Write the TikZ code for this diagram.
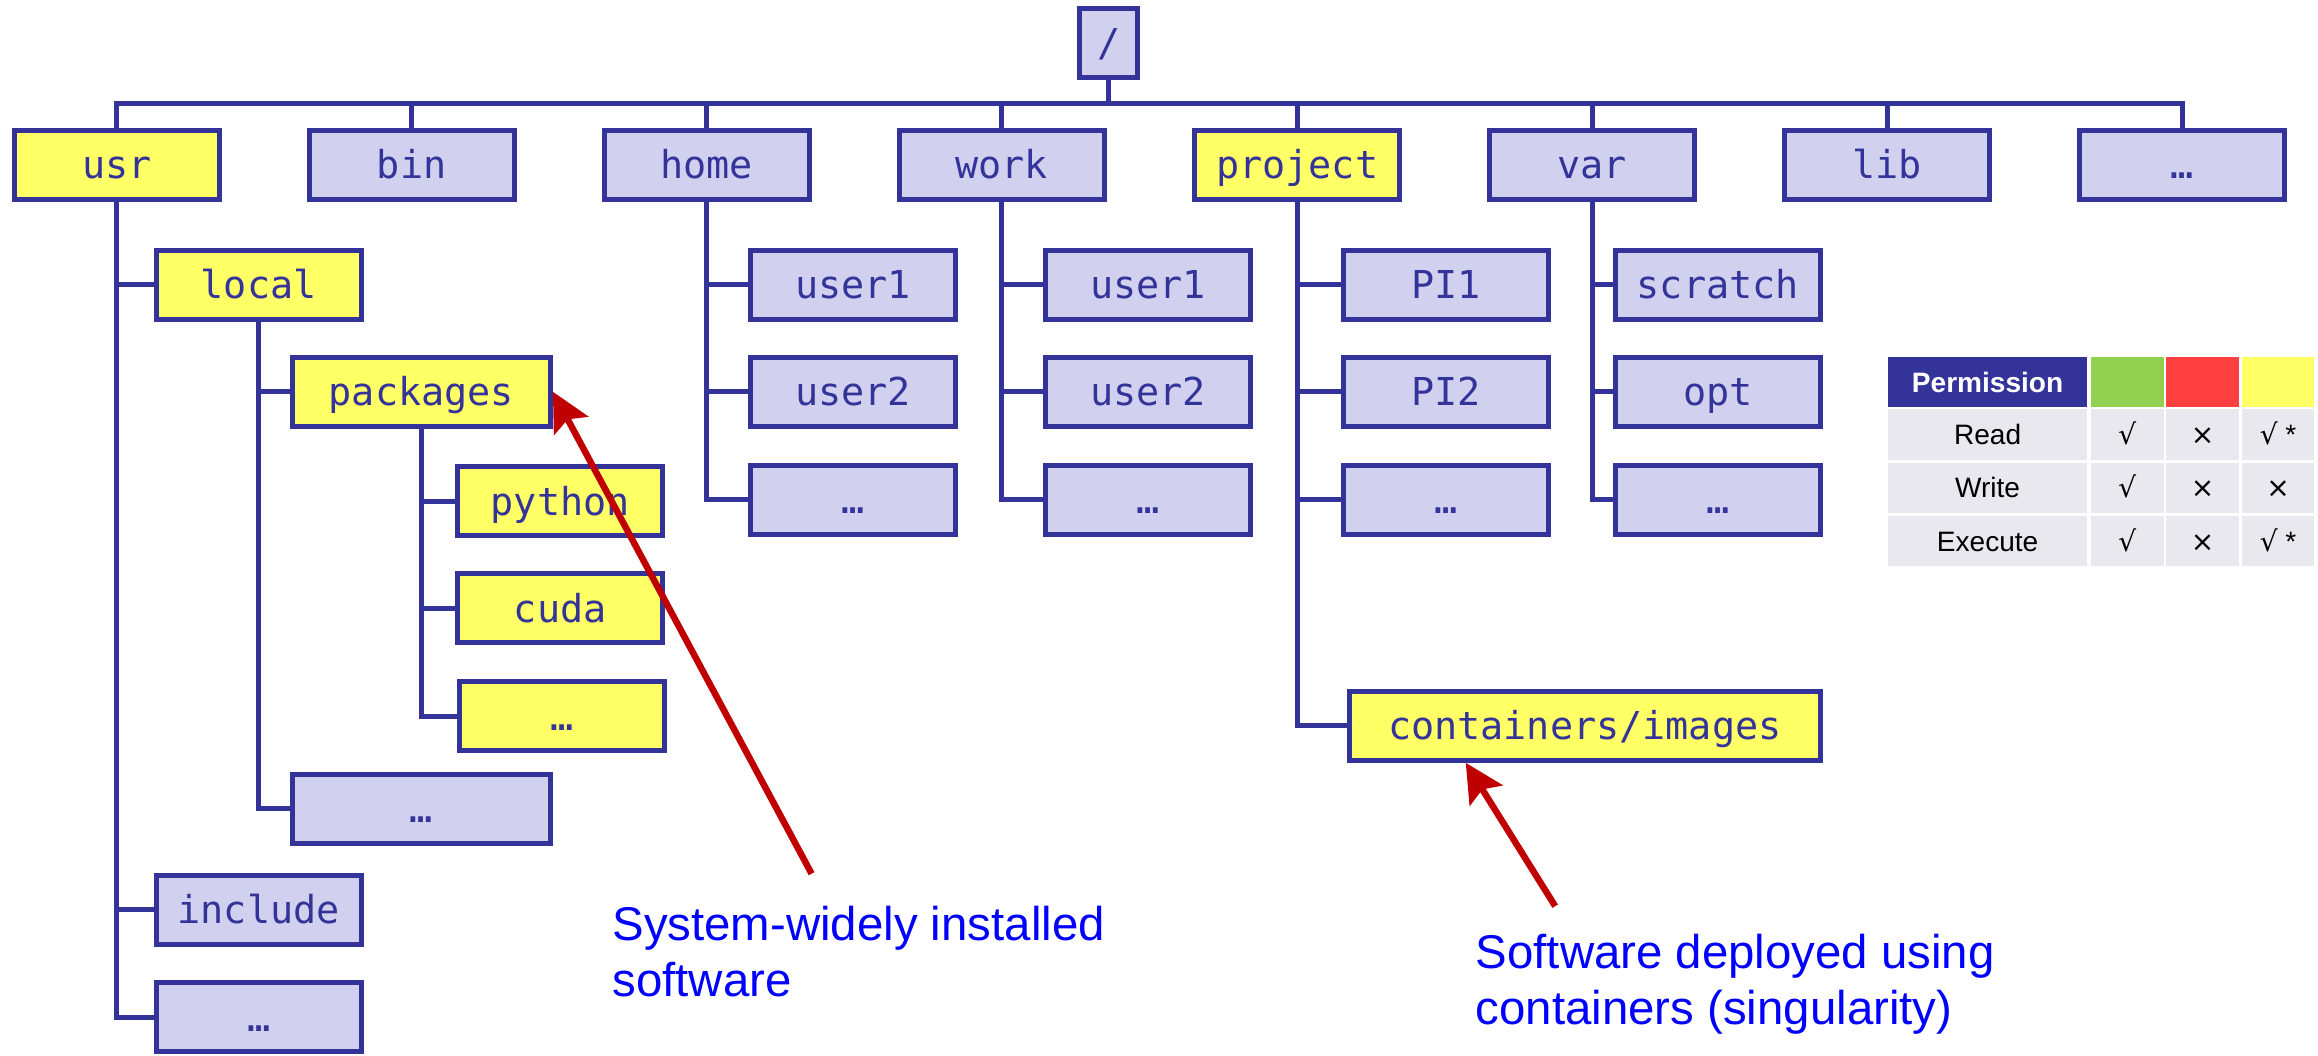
\documentclass[tikz,border=0pt]{standalone}
\usepackage{fontspec}
\setmainfont{Liberation Sans}
\setmonofont{DejaVu Sans Mono}
\newfontfamily\marksfont{DejaVu Sans}
\usetikzlibrary{arrows.meta,calc}
\definecolor{dirblue}{HTML}{333399}
\definecolor{dirlilac}{HTML}{D1D1EF}
\definecolor{diryellow}{HTML}{FFFF66}
\definecolor{calloutred}{HTML}{C00000}
\definecolor{noteblue}{HTML}{0000FF}
\definecolor{cellgray}{HTML}{E8E8EE}
\definecolor{okgreen}{HTML}{92D050}
\definecolor{nored}{HTML}{FF4040}

\begin{document}
\begin{tikzpicture}[x=0.25mm,y=-0.25mm,
  dirbox/.style={draw=dirblue,fill=dirlilac,line width=0.85mm,text=dirblue,inner sep=0pt,minimum width=34.65mm,minimum height=11.65mm,text height=4.75mm,text depth=0pt,font=\fontsize{18.5}{22}\selectfont\ttfamily},
  usedbox/.style={dirbox,fill=diryellow},
  branch/.style={draw=dirblue,line width=0.85mm},
  callout/.style={draw=calloutred,line width=1.1mm,-{Stealth[length=6.5mm,width=6.5mm,inset=1.2mm]}},
  note/.style={anchor=north west,inner sep=0pt,align=left,text=noteblue,font=\fontsize{22.8}{27}\selectfont},
  cell/.style={fill=cellgray,inner sep=0pt,minimum width=12.25mm,minimum height=8.5mm,text height=3.4mm,text depth=0pt,font=\fontsize{13.5}{16}\selectfont},
  headcell/.style={cell,fill=dirblue,text=white,minimum width=33.75mm,font=\fontsize{13.5}{16}\selectfont\bfseries}]
\path[use as bounding box] (0,0) rectangle (1568,714);
% root and first level
\node[dirbox,minimum width=9.75mm] (root) at (750,29) {/};
\coordinate (bus) at (750,70);
\node[usedbox] (usr) at (79,111.5) {usr};
\node[dirbox] (bin) at (278.5,111.5) {bin};
\node[dirbox] (home) at (478,111.5) {home};
\node[dirbox] (work) at (677.5,111.5) {work};
\node[usedbox] (project) at (877.5,111.5) {project};
\node[dirbox] (var) at (1077,111.5) {var};
\node[dirbox] (lib) at (1276.5,111.5) {lib};
\node[dirbox] (topmore) at (1476,111.5) {…};
\draw[branch] (root) -- (bus);
\draw[branch] (usr.north) -- (usr.north |- bus) -- (topmore.north |- bus) -- (topmore.north);
\draw[branch] (bin.north) -- (bin.north |- bus);
\draw[branch] (home.north) -- (home.north |- bus);
\draw[branch] (work.north) -- (work.north |- bus);
\draw[branch] (project.north) -- (project.north |- bus);
\draw[branch] (var.north) -- (var.north |- bus);
\draw[branch] (lib.north) -- (lib.north |- bus);
% usr
\node[usedbox] (local) at (175,192.5) {local};
\node[dirbox] (include) at (175,615.5) {include};
\node[dirbox] (usrmore) at (175,688) {…};
\draw[branch] (usr.south) |- (local.west);
\draw[branch] (usr.south) |- (include.west);
\draw[branch] (usr.south) |- (usrmore.west);
\node[usedbox,minimum width=43.65mm] (packages) at (285,265) {packages};
\node[dirbox,minimum width=43.65mm] (localmore) at (285,547) {…};
\draw[branch] (local.south) |- (packages.west);
\draw[branch] (local.south) |- (localmore.west);
\node[usedbox] (python) at (379,339) {python};
\node[usedbox] (cuda) at (379,411.5) {cuda};
\node[usedbox] (pkgmore) at (380,484.5) {…};
\draw[branch] (packages.south) |- (python.west);
\draw[branch] (packages.south) |- (cuda.west);
\draw[branch] (packages.south) |- (pkgmore.west);
% home, work
\node[dirbox] (homeuser1) at (577,192.5) {user1};
\node[dirbox] (homeuser2) at (577,265) {user2};
\node[dirbox] (homemore) at (577,338) {…};
\draw[branch] (home.south) |- (homeuser1.west);
\draw[branch] (home.south) |- (homeuser2.west);
\draw[branch] (home.south) |- (homemore.west);
\node[dirbox] (workuser1) at (776.5,192.5) {user1};
\node[dirbox] (workuser2) at (776.5,265) {user2};
\node[dirbox] (workmore) at (776.5,338) {…};
\draw[branch] (work.south) |- (workuser1.west);
\draw[branch] (work.south) |- (workuser2.west);
\draw[branch] (work.south) |- (workmore.west);
% project
\node[dirbox] (pione) at (978,192.5) {PI1};
\node[dirbox] (pitwo) at (978,265) {PI2};
\node[dirbox] (projmore) at (978,338) {…};
\node[usedbox,minimum width=79.65mm] (containers) at (1072,491) {containers/images};
\draw[branch] (project.south) |- (pione.west);
\draw[branch] (project.south) |- (pitwo.west);
\draw[branch] (project.south) |- (projmore.west);
\draw[branch] (project.south) |- (containers.west);
% var
\node[dirbox] (scratch) at (1162,192.5) {scratch};
\node[dirbox] (opt) at (1162,265) {opt};
\node[dirbox] (varmore) at (1162,338) {…};
\draw[branch] (var.south) |- (scratch.west);
\draw[branch] (var.south) |- (opt.west);
\draw[branch] (var.south) |- (varmore.west);
% permission table
\node[headcell] (permhead) at (1344.5,258.5) {Permission};
\node[cell,fill=okgreen] (greenhead) at (1439,258.5) {};
\node[cell,fill=nored] (redhead) at (1490,258.5) {};
\node[cell,fill=diryellow] (yellowhead) at (1541,258.5) {};
\node[cell,minimum width=33.75mm] (read) at (1344.5,294) {Read};
\node[cell] (readgreen) at (1439,294) {\marksfont √};
\node[cell] (readred) at (1490,294) {\marksfont ×};
\node[cell] (readyellow) at (1541,294) {{\marksfont √} *};
\node[cell,minimum width=33.75mm] (write) at (1344.5,330) {Write};
\node[cell] (writegreen) at (1439,330) {\marksfont √};
\node[cell] (writered) at (1490,330) {\marksfont ×};
\node[cell] (writeyellow) at (1541,330) {\marksfont ×};
\node[cell,minimum width=33.75mm] (execute) at (1344.5,366) {Execute};
\node[cell] (executegreen) at (1439,366) {\marksfont √};
\node[cell] (executered) at (1490,366) {\marksfont ×};
\node[cell] (executeyellow) at (1541,366) {{\marksfont √} *};
% notes
\node[note] (systemnote) at (414,612.5) {System-widely installed\\software};
\node[note] (containernote) at (998,631.5) {Software deployed using\\containers (singularity)};
\coordinate (systemtail) at (549,591);
\coordinate (containertail) at (1052,613);
\draw[callout] (systemtail) -- (packages.east);
\draw[callout] (containertail) -- ($(containers.south west)!0.25!(containers.south east)$);
\end{tikzpicture}
\end{document}
